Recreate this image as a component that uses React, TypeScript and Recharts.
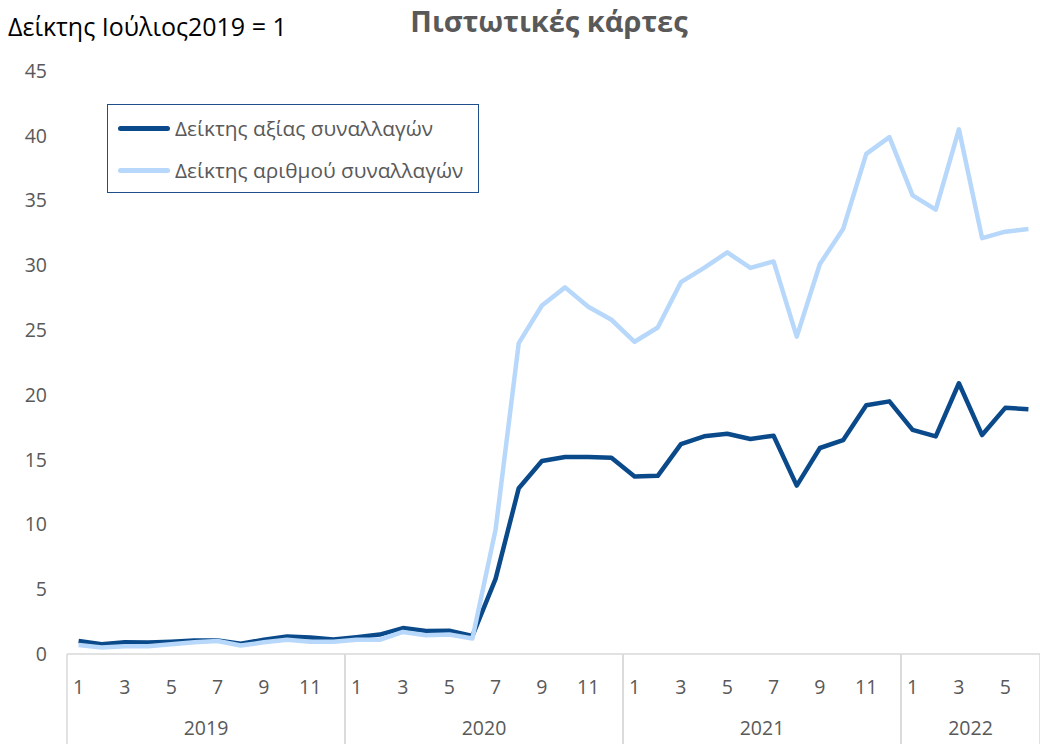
import React from "react";
import { LineChart, Line, XAxis, YAxis } from "recharts";

const monthLabels = [
  1, 2, 3, 4, 5, 6, 7, 8, 9, 10, 11, 12,
  1, 2, 3, 4, 5, 6, 7, 8, 9, 10, 11, 12,
  1, 2, 3, 4, 5, 6, 7, 8, 9, 10, 11, 12,
  1, 2, 3, 4, 5, 6,
];
const yearLabels = [
  "2019", "2019", "2019", "2019", "2019", "2019", "2019", "2019", "2019", "2019", "2019", "2019",
  "2020", "2020", "2020", "2020", "2020", "2020", "2020", "2020", "2020", "2020", "2020", "2020",
  "2021", "2021", "2021", "2021", "2021", "2021", "2021", "2021", "2021", "2021", "2021", "2021",
  "2022", "2022", "2022", "2022", "2022", "2022",
];
const valueIndex = [
  1.0, 0.75, 0.9, 0.88, 0.95, 1.05, 1.05, 0.8, 1.1, 1.35, 1.28, 1.12,
  1.3, 1.5, 2.0, 1.78, 1.8, 1.4, 5.8, 12.8, 14.9, 15.2, 15.2, 15.15,
  13.7, 13.75, 16.2, 16.8, 17.0, 16.6, 16.85, 13.0, 15.9, 16.5, 19.2, 19.5,
  17.3, 16.8, 20.9, 16.9, 19.0, 18.9,
];
const countIndex = [
  0.7, 0.5, 0.6, 0.6, 0.75, 0.9, 1.0, 0.65, 0.9, 1.1, 0.95, 0.95,
  1.1, 1.1, 1.7, 1.45, 1.5, 1.2, 9.6, 24.0, 26.9, 28.3, 26.8, 25.8,
  24.1, 25.2, 28.7, 29.8, 31.0, 29.8, 30.3, 24.5, 30.1, 32.8, 38.6, 39.9,
  35.4, 34.3, 40.5, 32.1, 32.6, 32.8,
];
const yTicks = [0, 5, 10, 15, 20, 25, 30, 35, 40, 45];
const seriesNames = ["Δείκτης αξίας συναλλαγών", "Δείκτης αριθμού συναλλαγών"];
const colors = ["#0B4A8A", "#B7D8FA"];

const data = monthLabels.map((m, i) => ({
  key: `${yearLabels[i]}-${m}`,
  month: m,
  year: yearLabels[i],
  value: valueIndex[i],
  count: countIndex[i],
}));

const W = 1040;
const H = 744;
const Y_W = 67;
const X_H = 90;
const M = { top: 71, right: 0, bottom: 0, left: 0 };
const band = (W - Y_W - M.right) / data.length;
const FONT = "'Open Sans', 'Noto Sans', sans-serif";
const GRAY = "#595959";
const TICK_FS = 19.5;

const groupSize = (year: string) => yearLabels.filter((y) => y === year).length;

const XTick = (props: any) => {
  const { x, y, payload } = props;
  const i = payload.index;
  const d = data[i];
  const parts: any[] = [];
  if (d.month % 2 === 1) {
    parts.push(
      <text key="m" x={x} y={y + 40} textAnchor="middle" fontSize={TICK_FS} fill={GRAY} fontFamily={FONT}>
        {d.month}
      </text>
    );
  }
  const isFirst = i === 0 || data[i - 1].year !== d.year;
  const isLast = i === data.length - 1 || data[i + 1].year !== d.year;
  if (isFirst) {
    const n = groupSize(d.year);
    parts.push(
      <line key="s" x1={x - band / 2} x2={x - band / 2} y1={y} y2={H} stroke="#D9D9D9" strokeWidth={1.5} />
    );
    parts.push(
      <text key="y" x={x + ((n - 1) / 2) * band} y={y + 81} textAnchor="middle" fontSize={TICK_FS} fill={GRAY} fontFamily={FONT}>
        {d.year}
      </text>
    );
  }
  if (isLast) {
    parts.push(
      <line key="e" x1={x + band / 2} x2={x + band / 2} y1={y} y2={H} stroke="#D9D9D9" strokeWidth={1.5} />
    );
  }
  return <g>{parts}</g>;
};

const LegendBox = () => (
  <div
    style={{
      position: "absolute",
      left: 107,
      top: 104,
      border: "1.5px solid #1F4E8C",
      width: 372,
      height: 89,
      boxSizing: "border-box",
      background: "#fff",
      fontFamily: FONT,
      fontSize: 20.8,
      color: GRAY,
      paddingTop: 7,
      zIndex: 2,
    }}
  >
    {seriesNames.map((n, i) => (
      <div key={n} style={{ display: "flex", alignItems: "center", height: 32, marginBottom: i === 0 ? 10 : 0, whiteSpace: "nowrap" }}>
        <div style={{ width: 52, height: 5, background: colors[i], marginLeft: 10, marginRight: 5, borderRadius: 3 }} />
        <span>{n}</span>
      </div>
    ))}
  </div>
);

export default function App() {
  return (
    <div style={{ position: "absolute", left: 0, top: 0, width: W, height: H, overflow: "hidden", background: "#fff" }}>
      <div style={{ position: "absolute", left: 8, top: 9, fontFamily: FONT, fontSize: 25, color: "#000", whiteSpace: "nowrap", zIndex: 2 }}>
        Δείκτης Ιούλιος2019 = 1
      </div>
      <div
        style={{
          position: "absolute",
          left: 0,
          width: 1098,
          top: 1,
          textAlign: "center",
          fontFamily: FONT,
          fontSize: 29,
          fontWeight: 700,
          color: GRAY,
          whiteSpace: "nowrap",
          zIndex: 2,
        }}
      >
        Πιστωτικές κάρτες
      </div>
      <LegendBox />
      <LineChart width={W} height={H} data={data} margin={M}>
        <XAxis
          dataKey="key"
          scale="band"
          interval={0}
          tick={<XTick />}
          tickLine={false}
          tickSize={0}
          tickMargin={0}
          axisLine={{ stroke: "#D9D9D9", strokeWidth: 1.5 }}
          height={X_H}
        />
        <YAxis
          domain={[0, 45]}
          ticks={yTicks}
          axisLine={false}
          tickLine={false}
          tickMargin={14}
          width={Y_W}
          tick={{ fontSize: TICK_FS, fill: GRAY, fontFamily: FONT }}
        />
        <Line
          dataKey="value"
          name={seriesNames[0]}
          stroke={colors[0]}
          strokeWidth={4.5}
          dot={false}
          strokeLinejoin="round"
          isAnimationActive={false}
        />
        <Line
          dataKey="count"
          name={seriesNames[1]}
          stroke={colors[1]}
          strokeWidth={4.5}
          dot={false}
          strokeLinejoin="round"
          isAnimationActive={false}
        />
      </LineChart>
    </div>
  );
}
